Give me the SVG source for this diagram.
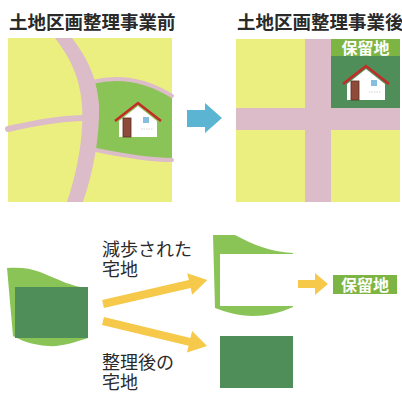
<svg xmlns="http://www.w3.org/2000/svg" width="402" height="394" viewBox="0 0 402 394">
  <defs>
    <style>
      .ttl { font-family: "Noto Sans CJK JP", "Noto Sans", sans-serif; font-size: 18.5px; font-weight: bold; fill: #2a2a2a; }
      .lbl { font-family: "Liberation Sans", "Noto Sans CJK JP", sans-serif; font-size: 18px; fill: #2a2a2a; }
      .tag { font-family: "Noto Sans CJK JP", "Noto Sans", sans-serif; font-size: 16px; font-weight: bold; fill: #ffffff; text-anchor: middle; }
      .field { fill: #eaef80; }
      .road { fill: #dcbcc9; }
      .roadline { fill: none; stroke: #dcbcc9; stroke-linecap: round; }
      .lawn { fill: #8bc456; }
      .lot { fill: #4f8d59; }
      .tagbg { fill: #7db544; }
      .yarrow { fill: #f6c94a; }
      .roof { fill: none; stroke: #c42a26; stroke-width: 2.5; stroke-linejoin: miter; }
      .wall { fill: #ffffff; }
      .door { fill: #8e4b3a; stroke: #5d2c1f; stroke-width: 0.8; }
      .win { fill: #86bde0; }
    </style>
    <!-- house icon, origin at roof apex -->
    <g id="house">
      <polygon class="wall" points="-19,18 0,3 19,18 19,34 -19,34"/>
      <rect class="door" x="-15" y="15" width="8" height="19"/>
      <rect class="win" x="5" y="14" width="6" height="6"/>
      <line x1="3" y1="26" x2="15" y2="26" stroke="#c8c8c8" stroke-width="0.8" stroke-dasharray="1.5 1"/>
      <polyline class="roof" points="-23,18 0,0 23,18"/>
    </g>
  </defs>

  <!-- titles -->
  <g id="title-before"><text class="ttl" x="9" y="29">土地区画整理事業前</text></g>
  <g id="title-after"><text class="ttl" x="237" y="29">土地区画整理事業後</text></g>

  <!-- before: irregular plots -->
  <g id="map-before">
    <rect class="field" x="8" y="38" width="164" height="164"/>
    <path class="lawn" d="M86,84 C120,76 148,82 172,97 L172,159 C145,159 120,154 86,148 Z"/>
    <path class="roadline" stroke-width="4" d="M92,82 C120,75 148,81 172,96"/>
    <path class="roadline" stroke-width="4" d="M96,150 C125,156 150,160 172,160"/>
    <path class="roadline" stroke-width="6" d="M8,129 C30,124 55,119 82,118"/>
    <path class="road" d="M55,38 C68,55 80,75 82,105 C84,140 76,175 67,202 L83,202 C92,175 100,140 99,105 C97,75 85,55 72,38 Z"/>
    <use href="#house" x="138" y="103"/>
  </g>

  <!-- direction arrow -->
  <g id="arrow-main">
    <polygon fill="#5bb5d2" points="187,110 205,110 205,103 222,118 205,133 205,127 187,127"/>
  </g>

  <!-- after: regular plots -->
  <g id="map-after">
    <rect class="field" x="236" y="39" width="164" height="163"/>
    <rect class="road" x="305" y="39" width="26" height="163"/>
    <rect class="road" x="236" y="108" width="164" height="22"/>
    <rect class="lot" x="331" y="39" width="69" height="69"/>
    <rect class="tagbg" x="331" y="39" width="69" height="17"/>
    <text class="tag" x="365.5" y="54">保留地</text>
    <use href="#house" x="366" y="66"/>
  </g>

  <!-- original lot -->
  <g id="lot-original">
    <path class="lawn" d="M7,268 C20,267 30,268 40,272 C60,280 72,287 88,288 L88,338 C75,342 62,347 48,346 C32,345 20,340 13,336 Z"/>
    <rect class="lot" x="15" y="287" width="73" height="51"/>
  </g>

  <!-- reduced lot -->
  <g id="lot-reduced">
    <path class="lawn" d="M213,235 L235,235 C252,244 270,252 293,253 L293,307 C280,313 266,316 253,316 C238,316 226,312 215,308 Z"/>
    <rect fill="#ffffff" x="220" y="254" width="73" height="52"/>
  </g>

  <!-- lot after readjustment -->
  <g id="lot-new">
    <rect class="lot" x="220" y="336" width="73" height="52"/>
  </g>

  <!-- reserved land tag -->
  <g id="reserve-tag">
    <rect class="tagbg" x="333" y="275" width="64" height="19"/>
    <text class="tag" x="365" y="291">保留地</text>
  </g>

  <!-- labels -->
  <g id="label-reduced">
    <text class="lbl" x="102" y="256">減歩された<tspan x="102" dy="20">宅地</tspan></text>
  </g>
  <g id="label-new">
    <text class="lbl" x="102" y="369">整理後の<tspan x="102" dy="20">宅地</tspan></text>
  </g>

  <!-- connectors -->
  <g id="connectors">
    <path class="yarrow" transform="translate(103,304) rotate(-13)" d="M0,-4 L89,-4 L89,-11 L107,0 L89,11 L89,4 L0,4 Z"/>
    <path class="yarrow" transform="translate(103,321) rotate(13.5)" d="M0,-4 L89,-4 L89,-11 L107,0 L89,11 L89,4 L0,4 Z"/>
    <polygon class="yarrow" points="298,280 315,280 315,273 328,284 315,295 315,288 298,288"/>
  </g>
</svg>
